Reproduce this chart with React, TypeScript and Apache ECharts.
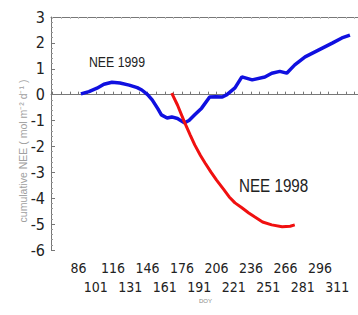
import React, { useEffect, useRef } from "react";
import * as echarts from "echarts";

const days1999 = [88, 95, 102, 108, 115, 122, 130, 137, 141, 146, 150, 155, 158, 163, 167, 172, 178, 182, 187, 193, 200, 205, 211, 215, 222, 228, 237, 248, 254, 261, 267, 274, 283, 295, 307, 315, 322];
const nee1999 = [0.03, 0.12, 0.25, 0.4, 0.48, 0.45, 0.37, 0.27, 0.18, 0.0, -0.2, -0.55, -0.78, -0.9, -0.86, -0.92, -1.09, -1.0, -0.78, -0.52, -0.09, -0.08, -0.09, 0.0, 0.26, 0.69, 0.57, 0.68, 0.83, 0.9, 0.83, 1.15, 1.46, 1.73, 2.0, 2.19, 2.3];
const days1998 = [167, 172, 178, 183, 187, 192, 196, 201, 206, 212, 217, 222, 228, 234, 239, 246, 254, 263, 270, 274];
const nee1998 = [0.06, -0.4, -1.05, -1.55, -1.94, -2.35, -2.64, -2.98, -3.3, -3.65, -3.95, -4.18, -4.37, -4.57, -4.72, -4.92, -5.03, -5.1, -5.08, -5.03];
const xLabelsRow1 = [86, 116, 146, 176, 206, 236, 266, 296];
const xLabelsRow2 = [101, 131, 161, 191, 221, 251, 281, 311];
const xMinorTicks = [63.5, 71, 78.5, 86, 93.5, 101, 108.5, 116, 123.5, 131, 138.5, 146, 153.5, 161, 168.5, 176, 183.5, 191, 198.5, 206, 213.5, 221, 228.5, 236, 243.5, 251, 258.5, 266, 273.5, 281, 288.5, 296, 303.5, 311, 318.5, 326];

const FONT = "'DejaVu Sans Condensed', 'Liberation Sans', Arial, sans-serif";
const SMALL = "'Liberation Sans', Arial, sans-serif";
const X_MIN = 62;
const X_MAX = 329;

export default function App() {
  const ref = useRef<HTMLDivElement>(null);
  useEffect(() => {
    if (!ref.current) return;
    const chart = echarts.init(ref.current, undefined, { renderer: "svg" });
    const axisLineStyle = { color: "#777", width: 1 };
    const labelBase = {
      showMinLabel: true,
      showMaxLabel: true,
      hideOverlap: false,
      fontFamily: FONT,
      fontSize: 14,
      color: "#222",
    };
    chart.setOption({
      animation: false,
      backgroundColor: "#fff",
      grid: { left: 51, right: 0, top: 17, bottom: 65 },
      xAxis: [
        {
          type: "value",
          min: X_MIN,
          max: X_MAX,
          splitLine: { show: false },
          axisLine: { show: true, lineStyle: axisLineStyle },
          axisTick: { show: true, inside: true, length: 3, customValues: xMinorTicks, lineStyle: axisLineStyle },
          axisLabel: { ...labelBase, customValues: xLabelsRow1, margin: 11 },
        },
        {
          type: "value",
          position: "bottom",
          min: X_MIN,
          max: X_MAX,
          splitLine: { show: false },
          axisLine: { show: false },
          axisTick: { show: false },
          axisLabel: { ...labelBase, customValues: xLabelsRow2, margin: 30 },
        },
        {
          type: "value",
          position: "top",
          min: X_MIN,
          max: X_MAX,
          splitLine: { show: false },
          axisLine: { show: true, onZero: false, lineStyle: axisLineStyle },
          axisTick: { show: true, inside: true, length: 2, customValues: xMinorTicks, lineStyle: { color: "#bbb" } },
          axisLabel: { show: false },
        },
      ],
      yAxis: {
        type: "value",
        min: -6,
        max: 3,
        interval: 1,
        splitLine: { show: false },
        axisLine: { show: true, lineStyle: axisLineStyle },
        axisTick: { show: true, inside: true, length: 4, lineStyle: axisLineStyle },
        minorTick: { show: true, splitNumber: 5, length: 2, lineStyle: { color: "#999" } },
        axisLabel: { fontFamily: FONT, fontSize: 16, color: "#222", margin: 6 },
      },
      series: [
        {
          type: "line",
          name: "NEE 1999",
          xAxisIndex: 0,
          data: days1999.map((d, i) => [d, nee1999[i]]),
          showSymbol: false,
          lineStyle: { color: "#1010e0", width: 3.5 },
          itemStyle: { color: "#1010e0" },
        },
        {
          type: "line",
          name: "NEE 1998",
          xAxisIndex: 0,
          data: days1998.map((d, i) => [d, nee1998[i]]),
          showSymbol: false,
          lineStyle: { color: "#f01010", width: 3 },
          itemStyle: { color: "#f01010" },
        },
      ],
      graphic: [
        { type: "text", x: 89, y: 55, scaleX: 0.82, style: { text: "NEE 1999", fontFamily: SMALL, fontSize: 15, fill: "#222" } },
        { type: "text", x: 239, y: 176, scaleX: 0.8, style: { text: "NEE 1998", fontFamily: SMALL, fontSize: 19, fill: "#222" } },
        {
          type: "text",
          x: 23,
          y: 151,
          rotation: Math.PI / 2,
          style: {
            text: "cumulative NEE ( mol m⁻² d⁻¹ )",
            fontFamily: SMALL,
            fontSize: 10.5,
            fill: "#a0a0a0",
            align: "center",
            verticalAlign: "middle",
          },
        },
        { type: "text", left: 199, top: 298, style: { text: "DOY", fontFamily: SMALL, fontSize: 6, fill: "#888" } },
      ],
    });
    return () => chart.dispose();
  }, []);
  return <div ref={ref} style={{ width: 358, height: 315, position: "absolute", left: 0, top: 0 }} />;
}
